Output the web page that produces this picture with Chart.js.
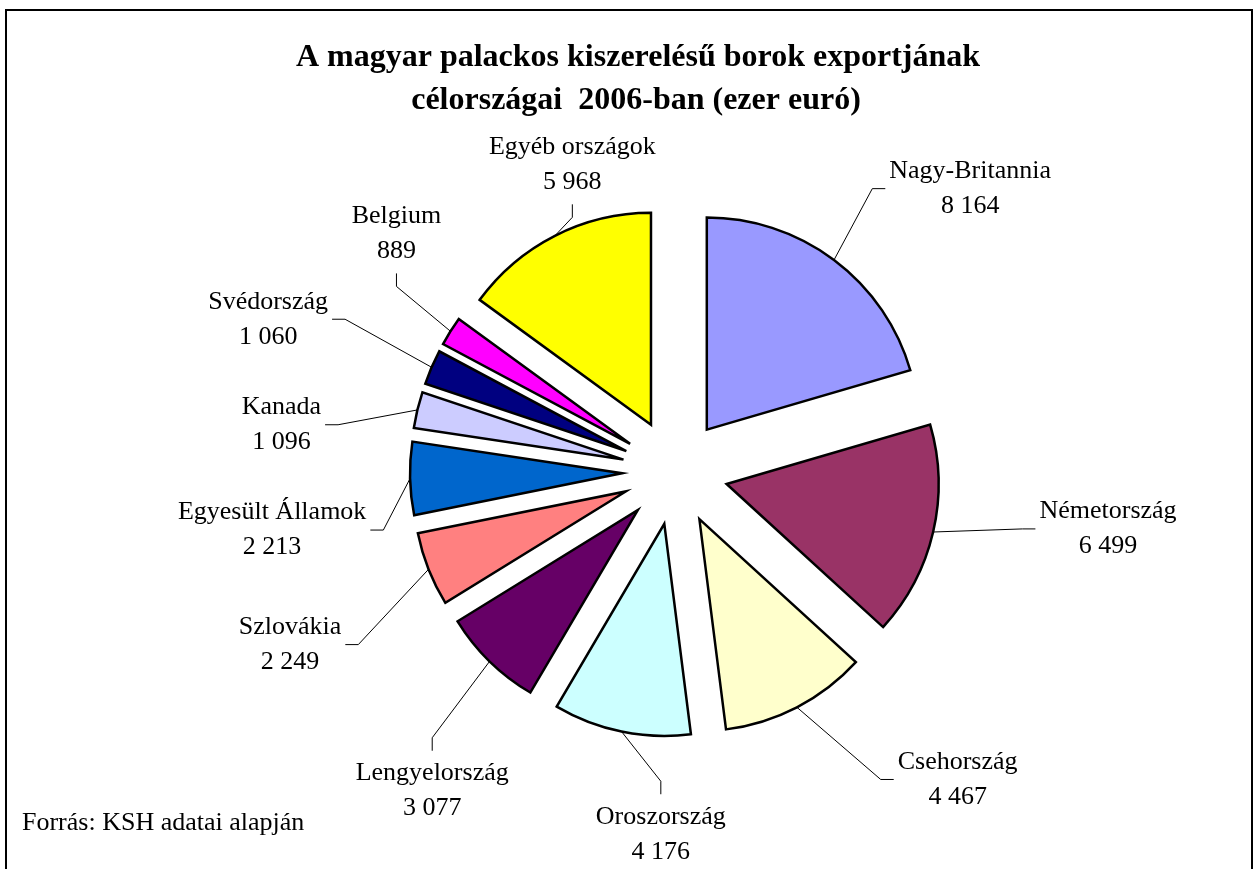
<!DOCTYPE html>
<html lang="hu">
<head>
<meta charset="utf-8">
<title>Borexport célországai 2006</title>
<script src="https://cdn.jsdelivr.net/npm/chart.js@4/dist/chart.umd.min.js"></script>
<style>
  html, body { margin: 0; padding: 0; background: #fff; }
  canvas { display: block; }
</style>
</head>
<body>
<canvas id="pieChart" width="1257" height="869"></canvas>
<script>
const countries = ['Nagy-Britannia', 'Németország', 'Csehország', 'Oroszország', 'Lengyelország', 'Szlovákia', 'Egyesült Államok', 'Kanada', 'Svédország', 'Belgium', 'Egyéb országok'];
const exportValues = [8164, 6499, 4467, 4176, 3077, 2249, 2213, 1096, 1060, 889, 5968];
const sliceColors = ['#9999ff', '#993366', '#ffffcc', '#ccffff', '#660066', '#ff8080', '#0066cc', '#ccccff', '#000080', '#ff00ff', '#ffff00'];

const titleLines = ['A magyar palackos kiszerelésű borok exportjának', 'célországai  2006-ban (ezer euró)'];
const sourceNote = 'Forrás: KSH adatai alapján';

// where the labels sit: turn from the slice middle (deg) and distance (x radius)
const labelTurn = [9.3, -5.6, -15.2, -9.4, -7.1, -2.6, -6.8, -6.7, -2.7, 8.5, 8.5];
const labelDist = [1.93, 2.06, 1.97, 1.71, 1.89, 1.99, 1.92, 1.87, 2.05, 1.73, 1.53];

const EXPLODE = 53; // every slice pulled out by this much
const SERIF = '"Liberation Serif", "Times New Roman", serif';

const fmt = v => String(v).replace(/\B(?=(\d{3})+(?!\d))/g, ' ');

const excelPie = {
  id: 'excelPie',
  beforeDraw(chart) {
    const ctx = chart.ctx;
    ctx.save();
    ctx.fillStyle = '#fff';
    ctx.fillRect(0, 0, chart.width, chart.height);
    ctx.strokeStyle = '#000';
    ctx.lineWidth = 2;
    ctx.strokeRect(6, 10, 1246, 900);
    ctx.fillStyle = '#000';
    ctx.textAlign = 'center';
    ctx.textBaseline = 'alphabetic';
    ctx.font = 'bold 32px ' + SERIF;
    ctx.fillText(titleLines[0], 638, 66);
    ctx.fillText(titleLines[1], 636, 109);
    ctx.textAlign = 'left';
    ctx.font = '26px ' + SERIF;
    ctx.fillText(sourceNote, 22, 830);
    ctx.restore();
  },
  // draw the slices ourselves so they all keep the same radius when pulled out
  beforeDatasetDraw(chart, args) {
    const ctx = chart.ctx;
    const arcs = chart.getDatasetMeta(args.index).data;
    ctx.save();
    arcs.forEach(arc => {
      const { x, y, startAngle, endAngle, outerRadius } = arc;
      const o = arc.options;
      const mid = (startAngle + endAngle) / 2;
      const cx = x + Math.cos(mid) * EXPLODE;
      const cy = y + Math.sin(mid) * EXPLODE;
      ctx.beginPath();
      ctx.moveTo(cx, cy);
      ctx.arc(cx, cy, outerRadius, startAngle, endAngle);
      ctx.closePath();
      ctx.fillStyle = o.backgroundColor;
      ctx.fill();
      ctx.lineWidth = o.borderWidth;
      ctx.strokeStyle = o.borderColor;
      ctx.lineJoin = 'miter';
      ctx.stroke();
    });
    ctx.restore();
    return false;
  },
  afterDatasetsDraw(chart) {
    const ctx = chart.ctx;
    const arcs = chart.getDatasetMeta(0).data;
    ctx.save();
    ctx.font = '26px ' + SERIF;
    ctx.textAlign = 'center';
    ctx.textBaseline = 'middle';
    arcs.forEach((arc, i) => {
      const { x, y, startAngle, endAngle, outerRadius: r } = arc;
      const mid = (startAngle + endAngle) / 2;
      const sx = x + Math.cos(mid) * (EXPLODE + r);
      const sy = y + Math.sin(mid) * (EXPLODE + r);
      const a = mid + labelTurn[i] * Math.PI / 180;
      const lx = x + Math.cos(a) * labelDist[i] * r;
      const ly = y + Math.sin(a) * labelDist[i] * r;
      const lines = [countries[i], fmt(exportValues[i])];
      const w = Math.max(...lines.map(t => ctx.measureText(t).width)) + 8;
      const h = 70;
      let px, py, ex, ey;
      if (Math.abs(lx - sx) > Math.abs(ly - sy)) {
        const side = lx > sx ? -1 : 1;
        px = lx + side * w / 2; py = ly;
        ex = px + side * 13; ey = py;
      } else {
        const side = ly > sy ? -1 : 1;
        px = lx; py = ly + side * (h / 2 + 5);
        ex = px; ey = py + side * 13;
      }
      ctx.beginPath();
      ctx.moveTo(sx, sy);
      ctx.lineTo(ex, ey);
      ctx.lineTo(px, py);
      ctx.strokeStyle = '#000';
      ctx.lineWidth = 1;
      ctx.stroke();
      ctx.fillStyle = '#000';
      ctx.fillText(lines[0], lx, ly - 17.5);
      ctx.fillText(lines[1], lx, ly + 17.5);
    });
    ctx.restore();
  }
};

new Chart(document.getElementById('pieChart'), {
  type: 'pie',
  data: {
    labels: countries,
    datasets: [{
      data: exportValues,
      backgroundColor: sliceColors,
      borderColor: '#000',
      borderWidth: 2.5,
      offset: 0,
      hoverOffset: 0
    }]
  },
  options: {
    responsive: false,
    animation: false,
    events: [],
    radius: 212,
    layout: { padding: { left: 100, right: 7, top: 85, bottom: 10 } },
    plugins: {
      legend: { display: false },
      tooltip: { enabled: false }
    }
  },
  plugins: [excelPie]
});
</script>
</body>
</html>
